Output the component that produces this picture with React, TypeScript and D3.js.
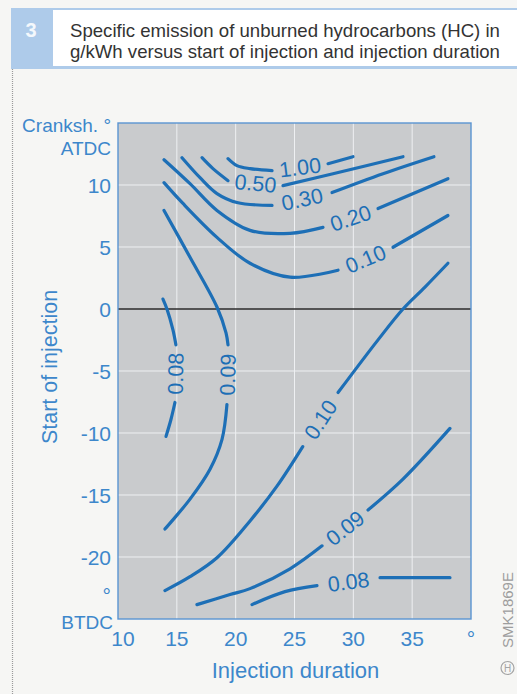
import React, { useEffect, useRef } from "react";
import * as d3 from "d3";

const W = 517;
const H = 694;

// axis values
const xTicks = [10, 15, 20, 25, 30, 35];
const yTicks = [10, 5, 0, -5, -10, -15, -20];
const xGrid = [15, 20, 25, 30, 35];
const yGrid = [10, 5, -5, -10, -15, -20];

type Pt = [number, number];

// iso-lines of HC emission, [injection duration, start of injection]
// every line is two pieces, its label sits in the gap
const hc100: Pt[][] = [
  [[19.35, 12.12], [20.11, 11.56], [21.22, 11.32], [23.09, 11.16]],
  [[27.85, 11.72], [29.97, 12.28]],
];
const hc050: Pt[][] = [
  [[17.14, 12.2], [18.07, 11.32], [19.35, 10.35]],
  [[24.02, 9.95], [28.27, 10.91], [34.22, 12.28]],
];
const hc030: Pt[][] = [
  [[15.44, 12.2], [16.97, 10.59], [18.41, 9.31], [20.11, 8.59], [23.09, 8.35]],
  [[28.19, 9.39], [32.52, 10.91], [36.85, 12.28]],
];
const hc020: Pt[][] = [
  [[13.91, 12.04], [16.12, 10.11], [18.41, 7.95], [21.22, 6.34], [24.62, 6.1], [27.42, 6.58]],
  [[32.1, 8.1], [38.04, 10.51]],
];
const hc010top: Pt[][] = [
  [[13.91, 10.19], [15.52, 8.51], [18.41, 5.78], [21.22, 3.69], [24.62, 2.57], [28.7, 3.13]],
  [[33.37, 4.98], [38.04, 7.54]],
];
const hc009left: Pt[][] = [
  [[13.91, 7.95], [16.12, 4.17], [18.41, 0.16], [19.18, -1.93], [19.35, -2.89]],
  [[19.26, -7.7], [18.84, -10.51], [17.82, -12.92], [16.12, -15.33], [13.99, -17.74]],
];
const hc008left: Pt[][] = [
  [[13.82, 0.8], [14.16, 0], [14.67, -1.69], [14.92, -2.89]],
  [[14.84, -7.54], [14.5, -8.91], [14.08, -10.27]],
];
const hc010low: Pt[][] = [
  [[13.99, -22.71], [16.12, -21.59], [18.41, -20.06], [21.22, -17.09], [23.51, -14.29], [25.7, -11.1]],
  [[28.7, -6.74], [32.1, -2.49], [34.22, 0], [36.09, 1.77], [38.04, 3.69]],
];
const hc009low: Pt[][] = [
  [[16.71, -23.84], [19.52, -23.03], [21.22, -22.55], [24.62, -20.95], [27.34, -19.1]],
  [[31.25, -16.21], [34.22, -13.72], [38.21, -9.63]],
];
const hc008low: Pt[][] = [
  [[21.39, -23.84], [24.19, -22.79], [26.91, -22.31]],
  [[32.27, -21.67], [38.21, -21.67]],
];

const contours = [
  { label: "1.00", parts: hc100 },
  { label: "0.50", parts: hc050 },
  { label: "0.30", parts: hc030 },
  { label: "0.20", parts: hc020 },
  { label: "0.10", parts: hc010top },
  { label: "0.09", parts: hc009left },
  { label: "0.08", parts: hc008left },
  { label: "0.10", parts: hc010low },
  { label: "0.09", parts: hc009low },
  { label: "0.08", parts: hc008low },
];

const FONT = "'Liberation Sans', Arial, Helvetica, sans-serif";
const AXIS_BLUE = "#3d87cb";
const LINE_BLUE = "#1d6fb6";

const App = () => {
  const svgRef = useRef<SVGSVGElement>(null);

  useEffect(() => {
    const svg = d3.select(svgRef.current);
    svg.selectAll("*").remove();

    // page
    svg.append("rect").attr("width", W).attr("height", H).attr("fill", "#f6f6f4");

    // header
    svg.append("rect").attr("x", 11).attr("y", 8).attr("width", W - 11).attr("height", 61).attr("fill", "#aecbea");
    svg.append("rect").attr("x", 53).attr("y", 10).attr("width", W - 53).attr("height", 56).attr("fill", "#ffffff");
    svg
      .append("text")
      .attr("x", 31)
      .attr("y", 37)
      .attr("text-anchor", "middle")
      .style("font-family", FONT)
      .style("font-size", "20px")
      .style("font-weight", "bold")
      .style("fill", "#f4f8fc")
      .text("3");
    const title = svg
      .append("text")
      .style("font-family", FONT)
      .style("font-size", "18.6px")
      .style("fill", "#333333");
    title.append("tspan").attr("x", 70).attr("y", 37).text("Specific emission of unburned hydrocarbons (HC) in");
    title.append("tspan").attr("x", 70).attr("y", 58).text("g/kWh versus start of injection and injection duration");

    // dotted left frame line
    svg
      .append("line")
      .attr("x1", 12.5)
      .attr("x2", 12.5)
      .attr("y1", 69)
      .attr("y2", H)
      .attr("stroke", "#9a9a9a")
      .attr("stroke-width", 1.2)
      .attr("stroke-dasharray", "1 1");

    const x = d3.scaleLinear().domain([10, 40]).range([118, 471]);
    const y = d3.scaleLinear().domain([-25, 15]).range([619, 123]);

    // plot area
    svg
      .append("rect")
      .attr("x", x(10))
      .attr("y", y(15))
      .attr("width", x(40) - x(10))
      .attr("height", y(-25) - y(15))
      .attr("fill", "#c9cbcd");

    svg
      .selectAll(".vgrid")
      .data(xGrid)
      .join("line")
      .attr("x1", (d) => x(d))
      .attr("x2", (d) => x(d))
      .attr("y1", y(15))
      .attr("y2", y(-25))
      .attr("stroke", "#eef0f2")
      .attr("stroke-width", 1);
    svg
      .selectAll(".hgrid")
      .data(yGrid)
      .join("line")
      .attr("x1", x(10))
      .attr("x2", x(40))
      .attr("y1", (d) => y(d))
      .attr("y2", (d) => y(d))
      .attr("stroke", "#eef0f2")
      .attr("stroke-width", 1);

    // TDC line
    svg
      .append("line")
      .attr("x1", x(10))
      .attr("x2", x(40))
      .attr("y1", y(0))
      .attr("y2", y(0))
      .attr("stroke", "#2b2b2b")
      .attr("stroke-width", 1.6);

    svg
      .append("rect")
      .attr("x", x(10))
      .attr("y", y(15))
      .attr("width", x(40) - x(10))
      .attr("height", y(-25) - y(15))
      .attr("fill", "none")
      .attr("stroke", "#5a94d2")
      .attr("stroke-width", 1.4);

    // contours
    const line = d3
      .line<Pt>()
      .x((d) => x(d[0]))
      .y((d) => y(d[1]))
      .curve(d3.curveCatmullRom.alpha(0.5));

    contours.forEach((c) => {
      c.parts.forEach((p) => {
        svg
          .append("path")
          .attr("d", line(p))
          .attr("fill", "none")
          .attr("stroke", LINE_BLUE)
          .attr("stroke-width", 3.2)
          .attr("stroke-linecap", "round");
      });
      const a = c.parts[0][c.parts[0].length - 1];
      const b = c.parts[1][0];
      const ax = x(a[0]), ay = y(a[1]), bx = x(b[0]), by = y(b[1]);
      let ang = (Math.atan2(by - ay, bx - ax) * 180) / Math.PI;
      if (ang > 90) ang -= 180;
      if (ang < -90) ang += 180;
      svg
        .append("text")
        .attr("transform", `translate(${(ax + bx) / 2},${(ay + by) / 2}) rotate(${ang})`)
        .attr("text-anchor", "middle")
        .attr("dy", "0.36em")
        .style("font-family", FONT)
        .style("font-size", "21.5px")
        .style("fill", LINE_BLUE)
        .text(c.label);
    });

    const axisText = (sel: any, size = 21) =>
      sel.style("font-family", FONT).style("font-size", `${size}px`).style("fill", AXIS_BLUE);

    // y axis labels
    svg
      .selectAll(".ytick")
      .data(yTicks)
      .join("text")
      .attr("x", 111)
      .attr("y", (d) => y(d))
      .attr("dy", "0.36em")
      .attr("text-anchor", "end")
      .call(axisText)
      .text((d) => String(d));

    axisText(svg.append("text").attr("x", 111).attr("y", y(-22.7) + 13).attr("text-anchor", "end").text("°"));
    axisText(svg.append("text").attr("x", 111).attr("y", 132).attr("text-anchor", "end").text("Cranksh. °"), 19);
    axisText(svg.append("text").attr("x", 111).attr("y", 155).attr("text-anchor", "end").text("ATDC"), 19);
    axisText(svg.append("text").attr("x", 113).attr("y", 629).attr("text-anchor", "end").text("BTDC"), 19);

    // x axis labels
    svg
      .selectAll(".xtick")
      .data(xTicks)
      .join("text")
      .attr("x", (d) => x(d) + (d === 10 ? 5 : 0))
      .attr("y", 646)
      .attr("text-anchor", "middle")
      .call(axisText)
      .text((d) => String(d));
    axisText(svg.append("text").attr("x", x(40)).attr("y", 646).attr("text-anchor", "middle").text("°"));

    axisText(
      svg.append("text").attr("x", (x(10) + x(40)) / 2 + 1).attr("y", 678).attr("text-anchor", "middle").text("Injection duration"),
      22
    );
    axisText(
      svg
        .append("text")
        .attr("transform", `translate(57,${(y(15) + y(-25)) / 2 - 4}) rotate(-90)`)
        .attr("text-anchor", "middle")
        .text("Start of injection"),
      21.5
    );

    // figure code
    svg
      .append("text")
      .attr("transform", "translate(513,610) rotate(-90)")
      .attr("text-anchor", "middle")
      .style("font-family", FONT)
      .style("font-size", "15px")
      .style("fill", "#9d9d9d")
      .text("SMK1869E");
    svg
      .append("circle")
      .attr("cx", 507.5)
      .attr("cy", 668)
      .attr("r", 6.5)
      .attr("fill", "none")
      .attr("stroke", "#a5a5a5")
      .attr("stroke-width", 1.2);
    svg
      .append("text")
      .attr("x", 507.5)
      .attr("y", 672)
      .attr("text-anchor", "middle")
      .style("font-family", FONT)
      .style("font-size", "10px")
      .style("fill", "#a5a5a5")
      .text("H");
  }, []);

  return (
    <div style={{ position: "absolute", left: 0, top: 0 }}>
      <svg ref={svgRef} width={W} height={H} style={{ display: "block" }}></svg>
    </div>
  );
};

export default App;
